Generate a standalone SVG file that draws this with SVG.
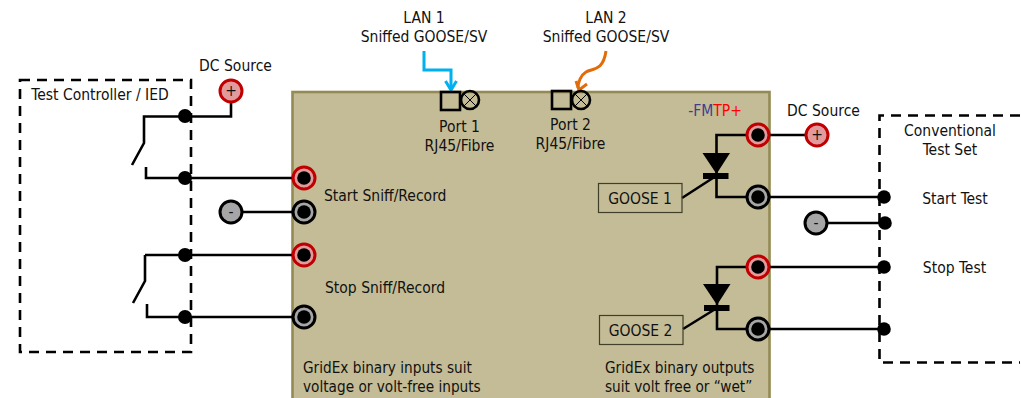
<svg xmlns="http://www.w3.org/2000/svg" width="1021" height="398" viewBox="0 0 1021 398">
<style>
text{font-family:"DejaVu Sans",sans-serif;font-size:15.5px;fill:#111;text-anchor:middle;font-stretch:condensed}
.l{text-anchor:start}
.s{font-size:15.2px}
.w{fill:none;stroke:#000;stroke-width:2.6}
.d{fill:none;stroke:#000;stroke-width:2.6;stroke-dasharray:10 7}
.dot{fill:#000}
.tr{fill:#e39a9d;stroke:#c00000;stroke-width:3}
.tg{fill:#a6a6a6;stroke:#000;stroke-width:3}
.b{fill:none;stroke:#000;stroke-width:2.6}
.g{fill:none;stroke:#3f3f2a;stroke-width:1.2}
</style>
<defs>
<g id="red"><circle r="11" class="tr"/><circle r="6.8" class="dot"/></g>
<g id="gry"><circle r="11" class="tg"/><circle r="6.8" class="dot"/></g>
</defs>
<g id="gridex"><rect x="292.500" y="92" width="477" height="320" fill="#c4bc96" stroke="#948a54" stroke-width="2.600"/></g>
<g id="controller"><rect x="20" y="80" width="171" height="272" class="d"/><text x="100" y="100">Test Controller / IED</text></g>
<g id="testset"><path d="M1020 115.500H879.500V362.500H1020" class="d"/><text x="950" y="136">Conventional</text><text x="950" y="155">Test Set</text></g>
<g id="connectors">
<path class="w" d="M231 102V116.500H144V143L132 165M146 167V178H304M231 212H304M145 255H304M145 255V281L133 303M147 304V317H304"/>
<path class="w" d="M758 135H817M758 135H716.500V197H758M758 197H884M817 223H885M758 267H884M758 267H717V329H758M758 329H884"/>
<path class="w" d="M682 198L716 176M683 329L717 308"/>
<path d="M424 51V70H451V88" fill="none" stroke="#00b0f0" stroke-width="3"/>
<path d="M445.500 81L451 90L456.500 81" fill="none" stroke="#00b0f0" stroke-width="3"/>
<path d="M606 51C603 72 592 68 586 72C581 75 578 82 578 88" fill="none" stroke="#e36c0a" stroke-width="3"/>
<path d="M576 81L579 90L587 84" fill="none" stroke="#e36c0a" stroke-width="3"/>
</g>
<g id="dots" class="dot">
<circle cx="185" cy="116" r="7"/><circle cx="185" cy="178" r="7"/><circle cx="185" cy="255" r="7"/><circle cx="185" cy="317" r="7"/>
<circle cx="884" cy="197" r="6.800"/><circle cx="885" cy="223" r="6.800"/><circle cx="884" cy="267" r="6.800"/><circle cx="884" cy="329" r="6.800"/>
</g>
<g id="terminals">
<use href="#red" x="304" y="178"/><use href="#gry" x="304" y="212"/><use href="#red" x="304" y="255"/><use href="#gry" x="304" y="317"/>
<use href="#red" x="758" y="135"/><use href="#gry" x="758" y="197"/><use href="#red" x="758" y="267"/><use href="#gry" x="758" y="329"/>
</g>
<g id="dc-left-plus"><circle cx="231" cy="91" r="11" class="tr"/><text x="231" y="96">+</text><text x="235.500" y="70.500">DC Source</text></g>
<g id="dc-left-minus"><circle cx="231" cy="212" r="11" class="tg"/><text x="231" y="217">-</text></g>
<g id="dc-right-plus"><circle cx="817" cy="135" r="11" class="tr"/><text x="817" y="140">+</text><text x="823.500" y="116">DC Source</text></g>
<g id="dc-right-minus"><circle cx="816" cy="223" r="11" class="tg"/><text x="816" y="228">-</text></g>
<g id="port1"><rect x="441" y="92" width="19" height="18" class="b"/><circle cx="470" cy="100" r="9" class="b"/><path d="M463.600 93.600L476.400 106.400M476.400 93.600L463.600 106.400" stroke="#000" stroke-width="1"/><text x="459.500" y="132">Port 1</text><text x="459.500" y="151">RJ45/Fibre</text></g>
<g id="port2"><rect x="552" y="91" width="19" height="18" class="b"/><circle cx="581" cy="100" r="9" class="b"/><path d="M574.600 93.600L587.400 106.400M587.400 93.600L574.600 106.400" stroke="#000" stroke-width="1"/><text x="570.500" y="130">Port 2</text><text x="570.500" y="149">RJ45/Fibre</text></g>
<g id="lan1"><text x="424" y="23">LAN 1</text><text x="424" y="42">Sniffed GOOSE/SV</text></g>
<g id="lan2"><text x="606" y="23">LAN 2</text><text x="606" y="42">Sniffed GOOSE/SV</text></g>
<g id="thyristor1"><path d="M702.500 153H730L716.500 174Z"/><rect x="703" y="173" width="25.500" height="6"/></g>
<g id="thyristor2"><path d="M703 284H730.500L717 305Z"/><rect x="704" y="305" width="25.500" height="6"/></g>
<g id="goose1"><rect x="598.500" y="183.500" width="83.500" height="29" class="g"/><text x="640" y="204">GOOSE 1</text></g>
<g id="goose2"><rect x="599.500" y="315.500" width="83.500" height="29" class="g"/><text x="640.500" y="336">GOOSE 2</text></g>
<g id="labels">
<text x="715" y="116"><tspan fill="#403c8f">-FM</tspan><tspan fill="#ff0000">TP+</tspan></text>
<text class="l" x="324" y="201">Start Sniff/Record</text>
<text class="l" x="325" y="292.500">Stop Sniff/Record</text>
<text x="955" y="204">Start Test</text>
<text x="954.500" y="273">Stop Test</text>
<text class="l s" x="303" y="373">GridEx binary inputs suit</text>
<text class="l s" x="303" y="392">voltage or volt-free inputs</text>
<text class="l s" x="605" y="373">GridEx binary outputs</text>
<text class="l s" x="605" y="392">suit volt free or “wet”</text>
</g>
</svg>
